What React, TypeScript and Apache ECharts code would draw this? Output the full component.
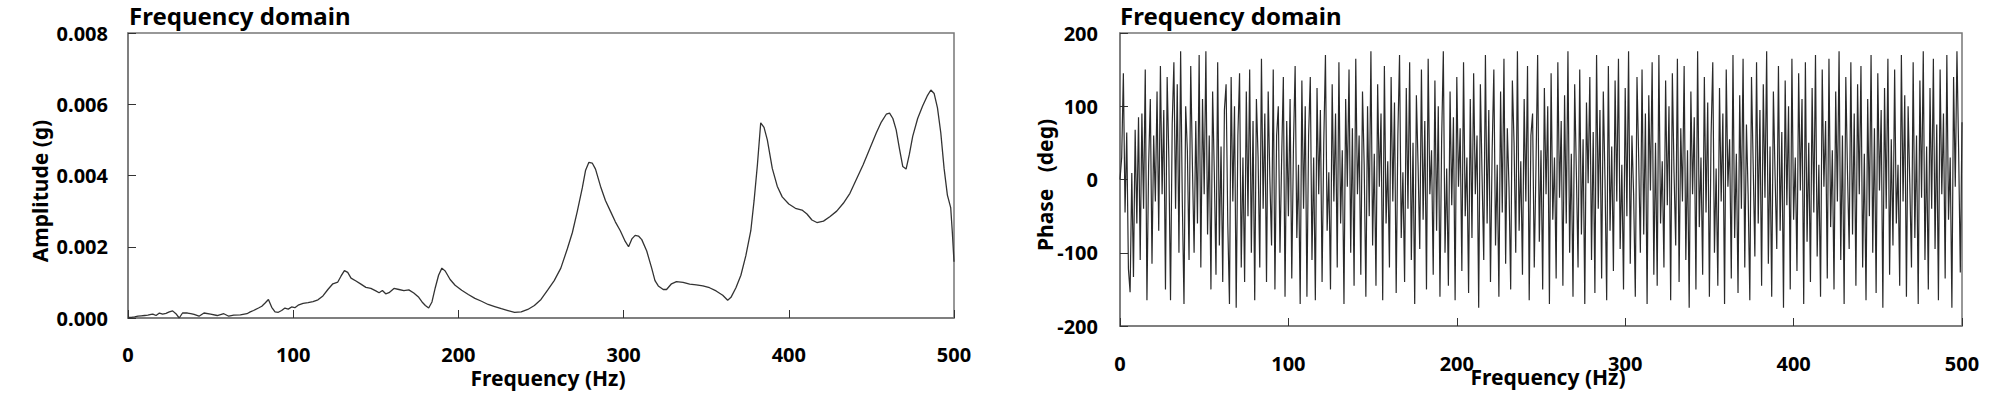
import React, { useEffect, useRef } from "react";
import * as echarts from "echarts";

const titleText = "Frequency domain";
const xName = "Frequency (Hz)";
const ampName = "Amplitude (g)";
const phaseName = "Phase   (deg)";

const freqTicks = [0, 100, 200, 300, 400, 500];

const ampFreq = [
  0, 2, 4, 6, 8, 10, 12, 14, 15, 17, 19, 21, 23, 25, 27, 29, 31, 33, 36, 38,
  40, 43, 46, 50, 54, 58, 61, 64, 68, 72, 74, 76, 79, 81, 83, 85, 87, 89, 91, 93,
  95, 97, 99, 101, 103, 106, 109, 112, 115, 118, 121, 124, 127, 129, 131, 133, 135, 138, 141, 144,
  147, 150, 152, 154, 156, 158, 161, 164, 167, 170, 173, 176, 178, 180, 182, 184, 186, 188, 190, 192,
  195, 198, 202, 206, 210, 214, 218, 222, 226, 230, 234, 238, 242, 246, 250, 254, 258, 262, 266, 269,
  272, 275, 277, 279, 281, 283, 286, 289, 292, 295, 298, 301, 303, 305, 307, 309, 311, 314, 317, 319,
  321, 324, 326, 329, 332, 336, 340, 344, 348, 352, 356, 360, 363, 365, 368, 371, 374, 377, 379, 381,
  383, 385, 387, 390, 393, 396, 400, 404, 408, 411, 414, 417, 421, 425, 429, 433, 437, 441, 445, 449,
  453, 456, 459, 461, 463, 465, 467, 469, 471, 473, 475, 478, 481, 484, 486, 488, 490, 492, 494, 496,
  498, 499, 500,
];

const ampValue = [
  0.00002, 0.00002, 0.00003, 0.00005, 0.00006, 0.00007, 0.00008, 0.0001, 0.00011, 0.00007,
  0.00014, 0.00011, 0.00013, 0.00017, 0.0002, 0.00012, 0.0, 0.00014, 0.00014, 0.00012,
  0.0001, 0.00005, 0.00014, 0.00011, 0.00007, 0.00012, 0.00005, 0.00008, 0.00009, 0.00012,
  0.00017, 0.00021, 0.00028, 0.00033, 0.00042, 0.00052, 0.0003, 0.00017, 0.00016, 0.00021,
  0.00028, 0.00025, 0.00031, 0.00029, 0.00036, 0.00041, 0.00043, 0.00046, 0.00051, 0.00062,
  0.0008, 0.00096, 0.00101, 0.00118, 0.00133, 0.00128, 0.00112, 0.00104, 0.00095, 0.00086,
  0.00083, 0.00076, 0.00071, 0.00077, 0.00068, 0.00071, 0.00083, 0.0008, 0.00077, 0.00079,
  0.0007, 0.00058, 0.00045, 0.00035, 0.00028, 0.00045, 0.00085, 0.0012, 0.0014, 0.00132,
  0.00108, 0.00092, 0.00078, 0.00066, 0.00055, 0.00047, 0.00038, 0.00032, 0.00026, 0.00021,
  0.00016, 0.00017, 0.00024, 0.00035, 0.00052, 0.00078, 0.00105, 0.0014, 0.00195, 0.0024,
  0.003, 0.00365, 0.00415, 0.00437, 0.00435, 0.00418, 0.0037, 0.0033, 0.003, 0.0027,
  0.00245, 0.00215, 0.002, 0.00222, 0.00232, 0.0023, 0.0022, 0.00188, 0.0014, 0.00105,
  0.0009, 0.0008, 0.0008, 0.00096, 0.00102, 0.001, 0.00095, 0.00093, 0.0009, 0.00085,
  0.00076, 0.00064, 0.0005, 0.00058, 0.00085, 0.0012, 0.00175, 0.00245, 0.0033, 0.0043,
  0.00548, 0.00535, 0.005, 0.0042, 0.0037, 0.0034, 0.0032, 0.00308, 0.00303, 0.00292,
  0.00275, 0.00268, 0.00272, 0.00285, 0.003, 0.00322, 0.0035, 0.0039, 0.0043, 0.00475,
  0.0052, 0.0055, 0.00572, 0.00575, 0.0056, 0.00528, 0.00475, 0.00425, 0.00418, 0.0046,
  0.0051, 0.0056, 0.00595, 0.00625, 0.0064, 0.0063, 0.0059, 0.0052, 0.0042, 0.00345,
  0.0031, 0.0024, 0.00158,
];

// phase sampled at 1 Hz steps from 0 Hz to 500 Hz
const phaseStepHz = 1;
const phaseDeg = [
  0, 30, 145, -45, 64, -122, -154, 9, -133, 68, -60, 85, -110, 90, -40, 150, -165, 20, 110, -115,
  60, -30, 120, -70, 155, -20, 95, -150, 140, 30, -165, 75, 160, -40, 130, -100, 175, -30, -170, 100,
  40, -110, 155, 20, -100, 80, -60, 170, -120, 110, -20, 175, -75, 60, -150, 120, 10, -130, 160, -90,
  45, -140, 95, 130, -60, -170, 140, -30, 100, -175, 60, 145, -120, 30, -140, 120, -50, 150, -100, 80,
  -165, 110, 30, -120, 165, -40, 90, -140, 120, 0, -90, 150, -150, 60, 100, -100, 30, 140, -160, 80,
  -50, 110, -135, 45, 155, -80, 20, -170, 135, -40, 100, -160, 60, 140, -110, 30, -165, 125, -20, 95,
  -140, 50, 170, -70, 10, -150, 130, -30, 90, -120, 160, -60, 40, -170, 110, -10, 150, -100, 70, -145,
  165, -20, 60, -130, 120, 20, -160, 100, -50, 175, -90, 35, -145, 130, -10, 90, -165, 155, -60, 25,
  -120, 140, -30, 105, -155, 60, 170, -80, 10, -140, 125, -40, 160, -110, 50, -170, 115, 20, -95, 150,
  -55, 80, -150, 165, -20, 40, -130, 135, -70, 100, -160, 55, 175, -100, 15, -145, 120, -35, 85, -165,
  140, -10, 70, -125, 160, -50, 30, -155, 110, -80, 145, -20, 60, -175, 130, 5, -110, 170, -60, 95,
  -140, 40, 150, -90, 20, -160, 120, -45, 165, -115, 70, -10, -150, 135, 50, -100, 175, -70, 25, -130,
  110, -30, 155, -165, 60, 90, -120, 15, 170, -85, 40, -150, 125, -20, 100, -170, 145, -55, 30, -135,
  160, -25, 80, -145, 115, -60, 175, -100, 35, -160, 130, 10, -120, 150, -75, 55, -170, 105, -5, 140,
  -110, 65, -155, 170, -40, 95, -135, 120, 0, -165, 155, -70, 45, -125, 135, -30, 165, -95, 20, -150,
  125, -50, 175, -115, 60, -20, -160, 140, 30, -100, 150, -75, 90, -170, 115, -15, 160, -130, 50, -145,
  170, -60, 25, -120, 135, -35, 100, -165, 145, 10, -90, 165, -140, 70, -30, 155, -110, 40, -175, 120,
  -20, 85, -150, 175, -65, 30, -130, 140, -45, 105, -160, 60, 160, -100, 15, -145, 125, -30, 90, -170,
  150, -10, 55, -135, 170, -80, 35, -155, 115, -40, 165, -120, 75, -20, -165, 140, 20, -105, 160, -60,
  95, -145, 130, -25, 175, -115, 45, -160, 120, 5, -95, 155, -70, 65, -175, 135, -35, 100, -150, 165,
  -55, 30, -125, 145, -15, 110, -170, 160, -85, 50, -140, 125, -45, 170, -105, 20, -160, 150, -10, 80,
  -135, 165, -65, 40, -150, 120, -30, 175, -110, 60, -170, 140, 10, -95, 160, -75, 90, -145, 130, -20,
  155, -120, 35, -165, 110, -50, 170, -100, 70, -155, 145, -15, 95, -175, 125, -40, 165, -130, 55, -90,
  150, -60, 20, -145, 170, -30, 115, -160, 100, -5, -120, 160, -80, 60, -170, 135, -25, 175, -110, 45,
  -150, 125, -40, 165, -95, 75, -165, 150, -20, 90, -135, 170, -55, 30, -175, 140, -10, 175, 40, -127,
  78,
];

const FONT = "'Noto Sans', 'Open Sans', sans-serif";

export default function App() {
  const ref = useRef<HTMLDivElement>(null);

  useEffect(() => {
    if (!ref.current) return;
    const chart = echarts.init(ref.current, null, { renderer: "svg" });

    const ampData = ampFreq.map((f, i) => [f, ampValue[i]]);
    const phaseData = phaseDeg.map((v, i) => [i * phaseStepHz, v]);

    const labelStyle = {
      fontFamily: FONT,
      fontSize: 20,
      fontWeight: "bold" as const,
      color: "#000",
    };
    const nameFont = `bold 21px ${FONT}`;
    const axisLine = { show: true, onZero: false, lineStyle: { color: "#777", width: 1.5 } };
    const axisTick = {
      show: true,
      inside: true,
      length: 8,
      lineStyle: { color: "#333", width: 1 },
    };

    const nameText = (text: string, x: number, y: number, vertical: boolean) => ({
      type: "text",
      x,
      y,
      rotation: vertical ? Math.PI / 2 : 0,
      silent: true,
      style: {
        text,
        font: nameFont,
        fill: "#000",
        textAlign: "center",
        textVerticalAlign: "middle",
      },
    });
    const titleGraphic = (x: number) => ({
      type: "text",
      x,
      y: 15,
      silent: true,
      style: {
        text: titleText,
        font: `bold 24px ${FONT}`,
        lineHeight: 24,
        fill: "#000",
        textAlign: "left",
        textVerticalAlign: "middle",
      },
    });

    const option: any = {
      animation: false,
      backgroundColor: "#fff",
      grid: [
        { left: 128, top: 33, width: 826, height: 285, show: true, borderColor: "#777", borderWidth: 1.5, backgroundColor: "transparent", containLabel: false, outerBoundsMode: "none" },
        { left: 1120, top: 33, width: 842, height: 293, show: true, borderColor: "#777", borderWidth: 1.5, backgroundColor: "transparent", containLabel: false, outerBoundsMode: "none" },
      ],
      xAxis: [
        {
          gridIndex: 0,
          type: "value",
          min: freqTicks[0],
          max: freqTicks[freqTicks.length - 1],
          interval: 100,
          axisLine,
          axisTick,
          splitLine: { show: false },
          axisLabel: { ...labelStyle, margin: 26 },
        },
        {
          gridIndex: 1,
          type: "value",
          min: freqTicks[0],
          max: freqTicks[freqTicks.length - 1],
          interval: 100,
          axisLine,
          axisTick,
          splitLine: { show: false },
          axisLabel: { ...labelStyle, margin: 27 },
        },
      ],
      yAxis: [
        {
          gridIndex: 0,
          type: "value",
          min: 0,
          max: 0.008,
          interval: 0.002,
          axisLine,
          axisTick,
          splitLine: { show: false },
          axisLabel: { ...labelStyle, margin: 20, formatter: (v: number) => v.toFixed(3) },
        },
        {
          gridIndex: 1,
          type: "value",
          min: -200,
          max: 200,
          interval: 100,
          axisLine,
          axisTick,
          splitLine: { show: false },
          axisLabel: { ...labelStyle, margin: 22 },
        },
      ],
      graphic: [
        titleGraphic(129),
        titleGraphic(1120),
        nameText(xName, 548, 378, false),
        nameText(xName, 1548, 377, false),
        nameText(ampName, 40, 191, true),
        nameText(phaseName, 1045, 185, true),
      ],
      series: [
        {
          type: "line",
          xAxisIndex: 0,
          yAxisIndex: 0,
          data: ampData,
          showSymbol: false,
          smooth: false,
          lineStyle: { color: "#333", width: 1.3 },
        },
        {
          type: "line",
          xAxisIndex: 1,
          yAxisIndex: 1,
          data: phaseData,
          showSymbol: false,
          smooth: false,
          lineStyle: { color: "#2a2a2a", width: 1.2 },
        },
      ],
    };

    chart.setOption(option);
    return () => chart.dispose();
  }, []);

  return (
    <div
      ref={ref}
      style={{ position: "absolute", left: 0, top: 0, width: 2008, height: 393, background: "#fff" }}
    />
  );
}
